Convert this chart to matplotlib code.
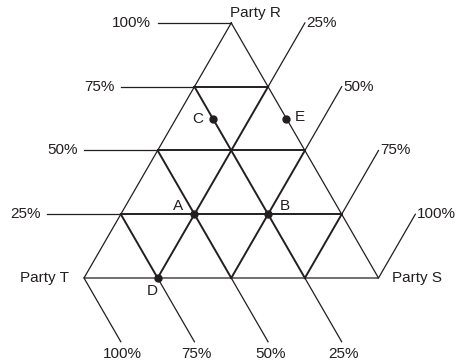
import numpy as np
import matplotlib
matplotlib.use("Agg")
import matplotlib.pyplot as plt

plt.rcParams['font.family'] = ['Liberation Sans', 'DejaVu Sans']

# 資料
parties = ["Party R", "Party S", "Party T"]
grid_levels = [25, 50, 75]
tick_levels = [25, 50, 75, 100]
point_names = ["A", "B", "C", "D", "E"]
point_r = [25, 25, 62.5, 0, 62.5]
point_s = [25, 50, 12.5, 25, 37.5]
point_t = [50, 25, 25, 75, 0]

H = np.sqrt(3) / 2
INK = "#231f20"


def tern(r, s, t):
    # 三元座標 -> 直角座標 (T 在左下, S 在右下, R 在上)
    tot = r + s + t
    return (s + r / 2) / tot, r * H / tot


fig = plt.figure(figsize=(4.57, 3.63), dpi=100)
ax = fig.add_axes([0, 0, 1, 1])
ax.set_xlim(-84 / 294.5, 373 / 294.5)
ax.set_ylim(-85 / 294.5, 278 / 294.5)
ax.set_aspect("equal")
ax.axis("off")

# 外框
corners = [tern(100, 0, 0), tern(0, 100, 0), tern(0, 0, 100), tern(100, 0, 0)]
ax.plot([c[0] for c in corners], [c[1] for c in corners], color=INK, lw=0.9)

# 內部格線
for g in grid_levels:
    a = tern(g, 0, 100 - g)
    b = tern(g, 100 - g, 0)
    ax.plot([a[0], b[0]], [a[1], b[1]], color=INK, lw=1.4)
    a = tern(0, g, 100 - g)
    b = tern(100 - g, g, 0)
    ax.plot([a[0], b[0]], [a[1], b[1]], color=INK, lw=1.4)
    a = tern(100 - g, 0, g)
    b = tern(0, 100 - g, g)
    ax.plot([a[0], b[0]], [a[1], b[1]], color=INK, lw=1.4)

ext = 0.25
c60, s60 = 0.5, H
fs = 11

# 左側 R 刻度
for v in tick_levels:
    x0, y0 = tern(v, 0, 100 - v)
    ax.plot([x0 - ext, x0], [y0, y0], color=INK, lw=0.9)
    ax.text(x0 - ext - 0.022, y0, f"{v}%", ha="right", va="center", fontsize=fs, color=INK)

# 右側 S 刻度
for v in tick_levels:
    x0, y0 = tern(100 - v, v, 0)
    x1, y1 = x0 + ext * c60, y0 + ext * s60
    ax.plot([x0, x1], [y0, y1], color=INK, lw=0.9)
    ax.text(x1 + 0.005, y1, f"{v}%", ha="left", va="center", fontsize=fs, color=INK)

# 下方 T 刻度
for v in tick_levels:
    x0, y0 = tern(0, 100 - v, v)
    x1, y1 = x0 + ext * c60, y0 - ext * s60
    ax.plot([x0, x1], [y0, y1], color=INK, lw=0.9)
    ax.text(x1 + 0.007, y1 - 0.018, f"{v}%", ha="center", va="top", fontsize=fs, color=INK)

# 頂點名稱
xr, yr = tern(100, 0, 0)
ax.text(xr - 0.005, yr + 0.035, parties[0], ha="left", va="center", fontsize=fs, color=INK)
xs, ys = tern(0, 100, 0)
ax.text(xs + 0.045, ys, parties[1], ha="left", va="center", fontsize=fs, color=INK)
xt, yt = tern(0, 0, 100)
ax.text(xt - 0.05, yt, parties[2], ha="right", va="center", fontsize=fs, color=INK)

# 資料點
offsets = {"A": (-16, 8), "B": (17, 8), "C": (-15, 0), "D": (-5, -13), "E": (13, 2)}
for name, r, s, t in zip(point_names, point_r, point_s, point_t):
    x, y = tern(r, s, t)
    ax.plot(x, y, "o", color=INK, ms=5, zorder=5)
    ax.annotate(name, (x, y), xytext=offsets[name], textcoords="offset pixels",
                ha="center", va="center", fontsize=fs, color=INK)

plt.savefig("out.png", dpi=100)
plt.close()
